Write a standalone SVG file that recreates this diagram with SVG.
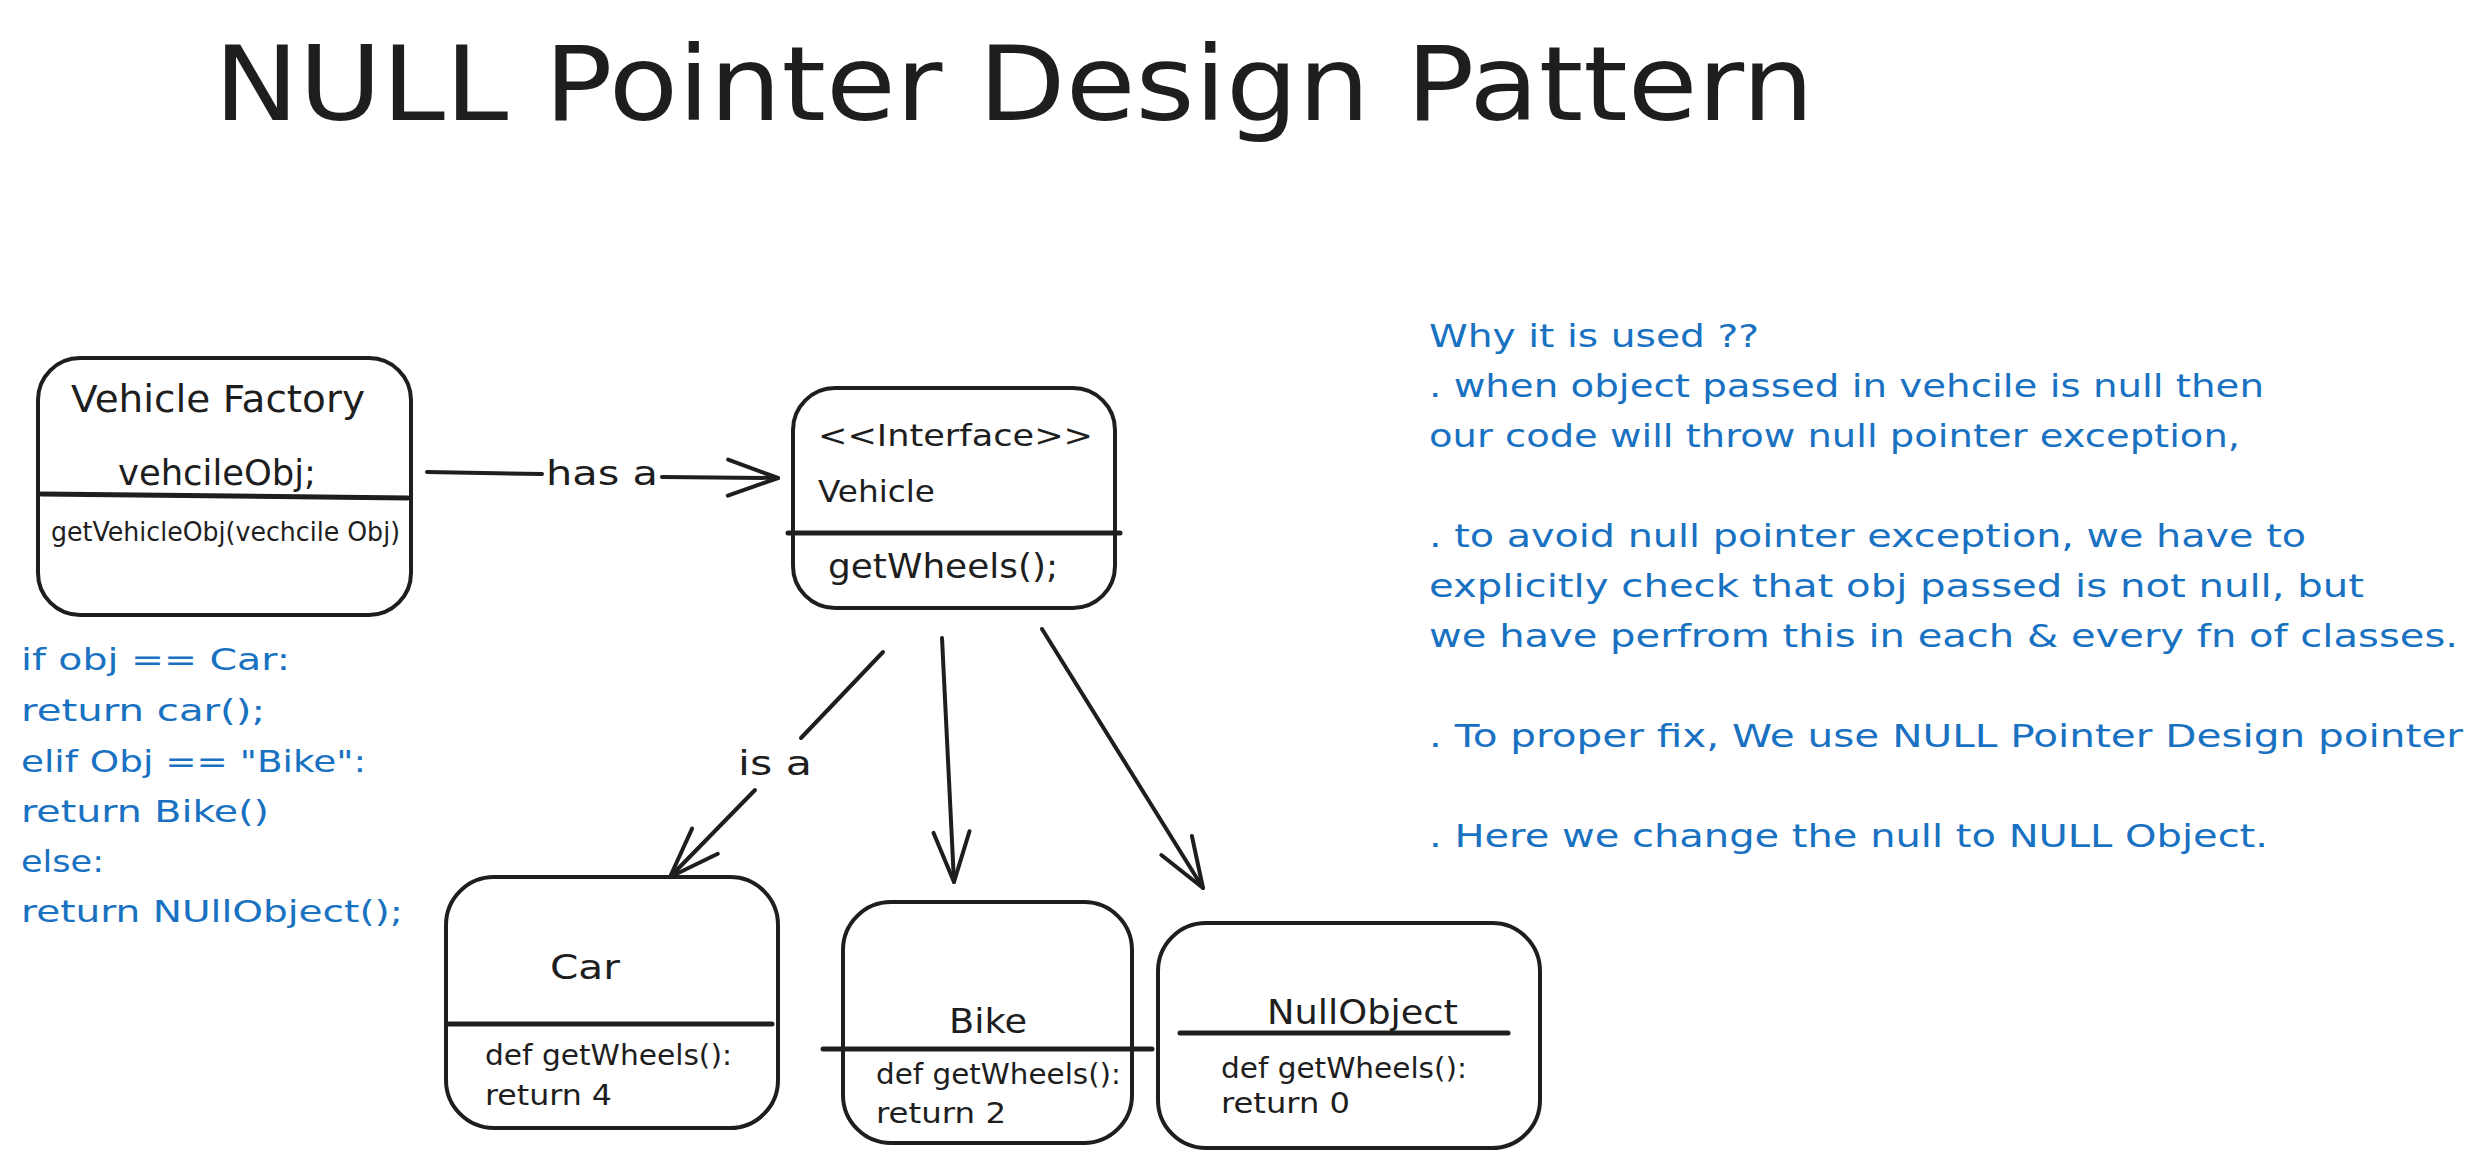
<svg xmlns="http://www.w3.org/2000/svg" width="2484" height="1167" viewBox="0 0 2484 1167">
<style>
text{font-family:"DejaVu Sans","Liberation Sans",sans-serif;fill:#1e1e1e}
.box{fill:none;stroke:#1e1e1e;stroke-width:4}
.div{stroke:#1e1e1e;stroke-width:5;stroke-linecap:round}
.con{fill:none;stroke:#1e1e1e;stroke-width:4;stroke-linecap:round}
.blue{fill:#1971c2;font-size:32px}
.code{font-size:31px}
.t34{font-size:35px}
.t30{font-size:31px}
.t28{font-size:29px}
.t25{font-size:26px}
</style>
<defs>
<marker id="arr" markerUnits="userSpaceOnUse" refX="0" refY="0" orient="auto" overflow="visible" markerWidth="60" markerHeight="40">
<path d="M -50 -18 L 0 0 L -50 18" fill="none" stroke="#1e1e1e" stroke-width="4" stroke-linecap="round" stroke-linejoin="round"/>
</marker>
</defs>
<rect width="2484" height="1167" fill="#ffffff"/>

<text id="title" x="214" y="120" font-size="104" textLength="1600" lengthAdjust="spacingAndGlyphs">NULL Pointer Design Pattern</text>

<g id="vehicle-factory">
<rect class="box" x="38" y="358" width="373" height="257" rx="42"/>
<line class="div" x1="41" y1="494" x2="408" y2="498"/>
<text x="71" y="412" font-size="37" textLength="294" lengthAdjust="spacingAndGlyphs">Vehicle Factory</text>
<text class="t34" x="118" y="485" textLength="198" lengthAdjust="spacingAndGlyphs">vehcileObj;</text>
<text class="t25" x="51" y="541" textLength="349" lengthAdjust="spacingAndGlyphs">getVehicleObj(vechcile Obj)</text>
</g>

<g id="vehicle-interface">
<rect class="box" x="793" y="388" width="322" height="220" rx="42"/>
<line class="div" x1="788" y1="533" x2="1120" y2="533"/>
<text class="t30" x="818" y="446" textLength="275" lengthAdjust="spacingAndGlyphs">&lt;&lt;Interface&gt;&gt;</text>
<text class="t30" x="818" y="502" textLength="117" lengthAdjust="spacingAndGlyphs">Vehicle</text>
<text x="828" y="578" font-size="33" textLength="230" lengthAdjust="spacingAndGlyphs">getWheels();</text>
</g>

<g id="car">
<rect class="box" x="446" y="877" width="332" height="251" rx="48"/>
<line class="div" x1="449" y1="1024" x2="772" y2="1024"/>
<text x="550" y="979" font-size="33" textLength="70" lengthAdjust="spacingAndGlyphs">Car</text>
<text class="t28" x="485" y="1065" textLength="247" lengthAdjust="spacingAndGlyphs">def getWheels():</text>
<text class="t28" x="485" y="1105" textLength="127" lengthAdjust="spacingAndGlyphs">return 4</text>
</g>

<g id="bike">
<rect class="box" x="843" y="902" width="289" height="241" rx="48"/>
<line class="div" x1="823" y1="1049" x2="1152" y2="1049"/>
<text x="949" y="1033" font-size="33" textLength="78" lengthAdjust="spacingAndGlyphs">Bike</text>
<text class="t28" x="876" y="1084" textLength="245" lengthAdjust="spacingAndGlyphs">def getWheels():</text>
<text class="t28" x="876" y="1123" textLength="130" lengthAdjust="spacingAndGlyphs">return 2</text>
</g>

<g id="null-object">
<rect class="box" x="1158" y="923" width="382" height="225" rx="48"/>
<line class="div" x1="1180" y1="1033" x2="1508" y2="1033"/>
<text x="1267" y="1024" font-size="33" textLength="191" lengthAdjust="spacingAndGlyphs">NullObject</text>
<text class="t28" x="1221" y="1078" textLength="246" lengthAdjust="spacingAndGlyphs">def getWheels():</text>
<text class="t28" x="1221" y="1113" textLength="129" lengthAdjust="spacingAndGlyphs">return 0</text>
</g>

<g id="connectors">
<line class="con" x1="427" y1="472" x2="542" y2="474"/>
<line class="con" x1="662" y1="477" x2="778" y2="478" marker-end="url(#arr)"/>
<text x="546" y="485" font-size="33" textLength="112" lengthAdjust="spacingAndGlyphs">has a</text>
<line class="con" x1="883" y1="652" x2="801" y2="738"/>
<line class="con" x1="755" y1="790" x2="670" y2="877" marker-end="url(#arr)"/>
<text x="738" y="775" font-size="33" textLength="74" lengthAdjust="spacingAndGlyphs">is a</text>
<line class="con" x1="942" y1="638" x2="954" y2="882" marker-end="url(#arr)"/>
<line class="con" x1="1042" y1="629" x2="1203" y2="888" marker-end="url(#arr)"/>
</g>

<g id="factory-code">
<text class="blue code" x="21" y="670" textLength="269" lengthAdjust="spacingAndGlyphs">if obj == Car:</text>
<text class="blue code" x="21" y="721" textLength="244" lengthAdjust="spacingAndGlyphs">return car();</text>
<text class="blue code" x="21" y="772" textLength="345" lengthAdjust="spacingAndGlyphs">elif Obj == "Bike":</text>
<text class="blue code" x="21" y="822" textLength="248" lengthAdjust="spacingAndGlyphs">return Bike()</text>
<text class="blue code" x="21" y="872" textLength="83" lengthAdjust="spacingAndGlyphs">else:</text>
<text class="blue code" x="21" y="922" textLength="382" lengthAdjust="spacingAndGlyphs">return NUllObject();</text>
</g>

<g id="notes">
<text class="blue" x="1429" y="347" textLength="330" lengthAdjust="spacingAndGlyphs">Why it is used ??</text>
<text class="blue" x="1429" y="397" textLength="835" lengthAdjust="spacingAndGlyphs">. when object passed in vehcile is null then</text>
<text class="blue" x="1429" y="447" textLength="811" lengthAdjust="spacingAndGlyphs">our code will throw null pointer exception,</text>
<text class="blue" x="1429" y="547" textLength="877" lengthAdjust="spacingAndGlyphs">. to avoid null pointer exception, we have to</text>
<text class="blue" x="1429" y="597" textLength="935" lengthAdjust="spacingAndGlyphs">explicitly check that obj passed is not null, but</text>
<text class="blue" x="1429" y="647" textLength="1029" lengthAdjust="spacingAndGlyphs">we have perfrom this in each &amp; every fn of classes.</text>
<text class="blue" x="1429" y="747" textLength="1034" lengthAdjust="spacingAndGlyphs">. To proper fix, We use NULL Pointer Design pointer</text>
<text class="blue" x="1429" y="847" textLength="839" lengthAdjust="spacingAndGlyphs">. Here we change the null to NULL Object.</text>
</g>
</svg>
